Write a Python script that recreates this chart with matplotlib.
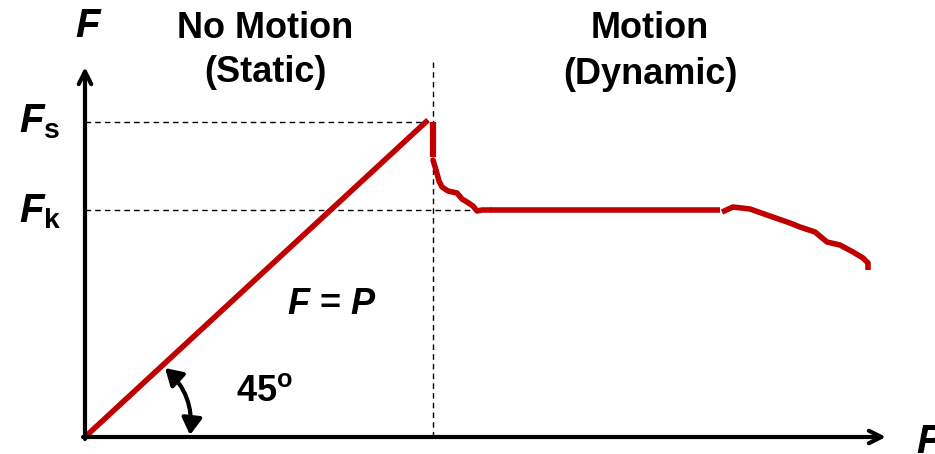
import numpy as np
import matplotlib.pyplot as plt
from matplotlib.patches import FancyArrowPatch

plt.rcParams['mathtext.fontset'] = 'custom'
plt.rcParams['mathtext.it'] = 'Liberation Sans:bold:italic'
plt.rcParams['mathtext.rm'] = 'Liberation Sans:bold'
plt.rcParams['mathtext.bf'] = 'Liberation Sans:bold'

# data (P = applied force, F = friction force)
static_P = [0, 343]
static_F = [0, 317]
drop_P = [348, 348]
drop_F = [315, 280]
decay_P = [348, 351, 354, 357, 363, 372, 377, 382, 388, 392, 397, 405]
decay_F = [277, 267, 256, 250, 246, 244, 238, 235, 231, 226, 227, 227]
kinetic_P = [405, 635]
kinetic_F = [227, 227]
tail_P = [637, 648, 665, 682, 705, 715, 730, 742, 755, 768, 778, 783, 783]
tail_F = [225, 230, 228, 222, 214, 210, 205, 195, 192, 185, 179, 174, 167]
Fs = 315
Fk = 227
P_break = 348

red = "#C00000"

fig = plt.figure(figsize=(9.35, 4.54), dpi=100)
ax = fig.add_axes([0, 0, 1, 1])
ax.set_xlim(-85, 850)
ax.set_ylim(-17, 437)
ax.axis("off")

# axes with arrows
ax.annotate("", xy=(801, 0), xytext=(-2, 0),
            arrowprops=dict(arrowstyle="->,head_length=0.9,head_width=0.45", lw=3, color="black",
                            shrinkA=0, shrinkB=0))
ax.annotate("", xy=(0, 370), xytext=(0, -2),
            arrowprops=dict(arrowstyle="->,head_length=0.9,head_width=0.45", lw=3, color="black",
                            shrinkA=0, shrinkB=0))

# dashed guides
ax.plot([0, 343], [Fs, Fs], ls=(0, (4, 3)), color="black", lw=1)
ax.plot([0, 400], [Fk, Fk], ls=(0, (4, 3)), color="black", lw=1)
ax.plot([P_break, P_break], [0, 377], ls=(0, (4, 3)), color="black", lw=1)

# friction curve
ax.plot(static_P, static_F, color=red, lw=4, solid_capstyle="butt")
ax.plot(drop_P, drop_F, color=red, lw=4.5, solid_capstyle="butt")
ax.plot(decay_P, decay_F, color=red, lw=4, solid_capstyle="round", solid_joinstyle="round")
ax.plot(kinetic_P, kinetic_F, color=red, lw=4, solid_capstyle="butt")
ax.plot(tail_P, tail_F, color=red, lw=4, solid_capstyle="butt", solid_joinstyle="round")

# 45 degree arc
arc = FancyArrowPatch((80, 69), (105, 2), connectionstyle="arc3,rad=-0.25",
                      arrowstyle="<|-|>,head_length=10,head_width=6", lw=3, color="black",
                      shrinkA=0, shrinkB=0)
ax.add_patch(arc)

# labels
fs = 29
ax.text(4, 411, "$F$", fontsize=fs, ha="center", va="center")
ax.text(845, -5, "$P$", fontsize=fs, ha="center", va="center")
ax.text(-45, 316, r"$F_\mathrm{s}$", fontsize=fs, ha="center", va="center")
ax.text(-45, 226, r"$F_\mathrm{k}$", fontsize=fs, ha="center", va="center")
tfs = 26
ax.text(180, 409, "No Motion", fontsize=tfs, fontweight="bold", family="Liberation Sans",
        ha="center", va="center")
ax.text(180, 364, "(Static)", fontsize=tfs, fontweight="bold", family="Liberation Sans",
        ha="center", va="center")
ax.text(565, 408, "Motion", fontsize=tfs, fontweight="bold", family="Liberation Sans",
        ha="center", va="center")
ax.text(565, 363, "(Dynamic)", fontsize=tfs, fontweight="bold", family="Liberation Sans",
        ha="center", va="center")
ax.text(247, 133, "$F$ = $P$", fontsize=tfs, fontweight="bold", family="Liberation Sans",
        ha="center", va="center")
ax.text(180, 46, r"$\mathrm{45^o}$", fontsize=tfs, ha="center", va="center")

fig.savefig("out.png", dpi=100)
